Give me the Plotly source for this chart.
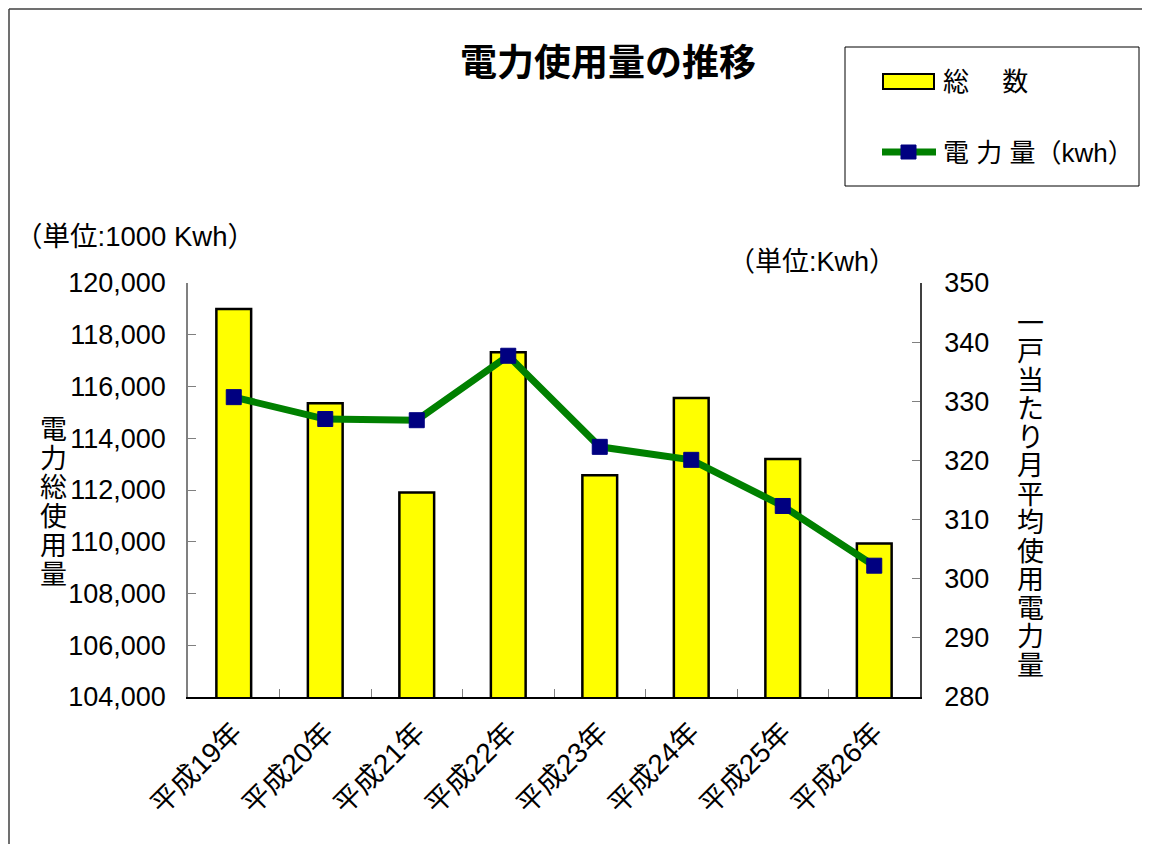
import plotly.graph_objects as go

categories = ["平成19年", "平成20年", "平成21年", "平成22年", "平成23年", "平成24年", "平成25年", "平成26年"]
total_usage = [119000, 115350, 111900, 117320, 112570, 115560, 113200, 109930]   # 1000 kWh
per_household = [330.7, 327.0, 326.8, 337.7, 322.3, 320.1, 312.3, 302.2]       # kWh

OFF = 8                      # page body margin
W, H = 1150 - OFF, 844 - OFF
L, R, T, B = 188, 920, 283, 697   # plot area in screen pixels


def px(x):
    return (x - L) / (R - L)


def py(y):
    return (B - y) / (B - T)


FONT = "Liberation Sans, Arial, Noto Sans CJK JP, sans-serif"

fig = go.Figure()
fig.add_trace(go.Bar(
    x=categories, y=total_usage, name="総　数",
    marker=dict(color="#FFFF00", line=dict(color="#000000", width=2.5)),
    width=0.38, showlegend=False,
))
fig.add_trace(go.Scatter(
    x=categories, y=per_household, name="電 力 量（kwh）", yaxis="y2",
    mode="lines+markers",
    line=dict(color="#008000", width=7),
    marker=dict(symbol="square", size=15, color="#000080", line=dict(color="#000080", width=1)),
    showlegend=False,
))

fig.update_layout(
    width=W, height=H,
    margin=dict(l=L - OFF, r=1150 - R, t=T - OFF, b=844 - B, pad=0),
    paper_bgcolor="white", plot_bgcolor="white",
    font=dict(family=FONT, color="black", size=26),
    xaxis=dict(
        type="category", range=[-0.5, 7.5],
        showline=True, linecolor="#000000", linewidth=1.5,
        ticks="inside", ticklen=8, tickcolor="#808080", tickson="boundaries",
        tickangle=-45, tickfont=dict(size=28, family=FONT),
        ticklabelstandoff=6,
        showgrid=False, zeroline=False,
    ),
    yaxis=dict(
        range=[104000, 120000], dtick=2000, tickformat=",.0f",
        showline=True, linecolor="#808080", linewidth=1.5,
        ticks="inside", ticklen=8, tickcolor="#808080",
        tickfont=dict(size=27, family=FONT),
        ticklabelstandoff=15,
        showgrid=False, zeroline=False,
    ),
    yaxis2=dict(
        range=[280, 350], dtick=10, overlaying="y", side="right",
        showline=True, linecolor="#404040", linewidth=1.5,
        ticks="inside", ticklen=8, tickcolor="#808080",
        tickfont=dict(size=27, family=FONT),
        ticklabelstandoff=17,
        showgrid=False, zeroline=False,
    ),
)

shapes = [
    # outer frame (left and top edges)
    dict(type="line", xref="paper", yref="paper", x0=px(9), x1=px(9), y0=py(9), y1=py(850),
         line=dict(color="#404040", width=1.5)),
    dict(type="line", xref="paper", yref="paper", x0=px(9), x1=px(1160), y0=py(9), y1=py(9),
         line=dict(color="#404040", width=1.5)),
    # legend box
    dict(type="rect", xref="paper", yref="paper", x0=px(845), x1=px(1139), y0=py(47), y1=py(186),
         line=dict(color="#000000", width=1), fillcolor="white"),
    # legend: bar symbol
    dict(type="rect", xref="paper", yref="paper", x0=px(883), x1=px(934), y0=py(74), y1=py(89),
         line=dict(color="#000000", width=2), fillcolor="#FFFF00"),
    # legend: line symbol
    dict(type="line", xref="paper", yref="paper", x0=px(882), x1=px(936), y0=py(152), y1=py(152),
         line=dict(color="#008000", width=7)),
    dict(type="rect", xref="paper", yref="paper", x0=px(901), x1=px(916), y0=py(145), y1=py(159),
         line=dict(color="#000080", width=1), fillcolor="#000080"),
]

annotations = [
    dict(text="<b>電力使用量の推移</b>", x=px(608), y=py(63), font=dict(size=37, family=FONT)),
    dict(text="総　 数", x=px(941), y=py(82), xanchor="left", font=dict(size=26, family=FONT)),
    dict(text="電 力 量（kwh）", x=px(941), y=py(153), xanchor="left", font=dict(size=26, family=FONT)),
    dict(text="（単位:1000 Kwh）", x=px(13), y=py(237), xanchor="left", font=dict(size=27.5, family=FONT)),
    dict(text="（単位:Kwh）", x=px(726), y=py(262), xanchor="left", font=dict(size=27, family=FONT)),
]

left_title = "電力総使用量"
for i, ch in enumerate(left_title):
    annotations.append(dict(text=ch, x=px(53), y=py(429.5 + 29 * i), font=dict(size=27, family=FONT)))

right_title = "一戸当たり月平均使用電力量"
for i, ch in enumerate(right_title):
    annotations.append(dict(text=ch, x=px(1031), y=py(324 + 28.46 * i), font=dict(size=27, family=FONT)))

for a in annotations:
    a.update(xref="paper", yref="paper", showarrow=False, xanchor=a.get("xanchor", "center"), yanchor="middle")

fig.update_layout(shapes=shapes, annotations=annotations)

fig.write_html("out.html")
